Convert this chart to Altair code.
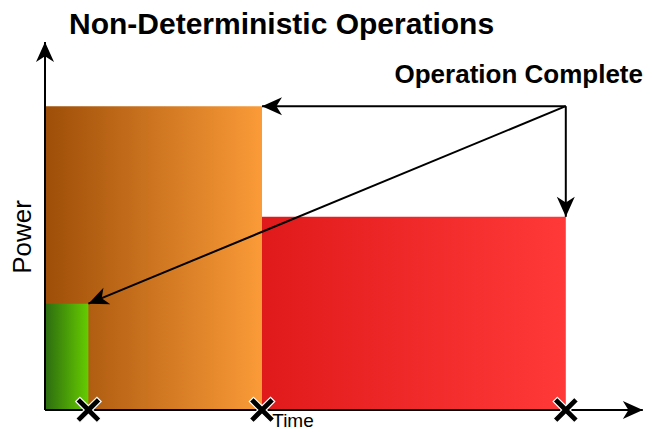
import math
import altair as alt
import pandas as pd

# ---- data ----
op_names = ["Operation A", "Operation B", "Operation C"]
start_times = [0, 0, 10]
end_times = [2, 10, 24]
power_levels = [4.9, 14, 8.9]
gradient_stops = {
    "Operation A": ["#2C6C10", "#66CC00"],
    "Operation B": ["#9E4E08", "#FB9B38"],
    "Operation C": ["#E01A1A", "#FF3838"],
}
draw_order = ["Operation B", "Operation A", "Operation C"]
title_text = "Non-Deterministic Operations"
note_text = "Operation Complete"
x_label = "Time"
y_label = "Power"
axis_x_end = 27.55
axis_y_end = 16.96

# ---- layout ----
W, H = 636, 424
K = 21.7               # pixels per data unit (same on both axes)
ORIGIN_X, ORIGIN_Y = 37, 402   # chart-pixel position of (0, 0)
xs = alt.Scale(domain=[-ORIGIN_X / K, (W - ORIGIN_X) / K], nice=False, zero=False)
ys = alt.Scale(domain=[-(H - ORIGIN_Y) / K, ORIGIN_Y / K], nice=False, zero=False)

ops = pd.DataFrame({"op": op_names, "t0": start_times, "t1": end_times,
                    "p0": [0] * len(op_names), "p1": power_levels})

ARROW = "M0,0 L0.45,1 L0,0.72 L-0.45,1 Z"
a = 0.2
XMARK = (f"M{-a},-1 L{a},-1 L{a},{-a} L1,{-a} L1,{a} L{a},{a} L{a},1 L{-a},1 "
         f"L{-a},{a} L-1,{a} L-1,{-a} L{-a},{-a} Z")

def X(f, **kw):
    return alt.X(f, type="quantitative", scale=xs, axis=None, **kw)

def Y(f, **kw):
    return alt.Y(f, type="quantitative", scale=ys, axis=None, **kw)

layers = []
for name in draw_order:
    c0, c1 = gradient_stops[name]
    grad = alt.LinearGradient(
        gradient="linear", x1=0, y1=0, x2=1, y2=0,
        stops=[alt.GradientStop(color=c0, offset=0), alt.GradientStop(color=c1, offset=1)],
    )
    layers.append(
        alt.Chart(ops).transform_filter(alt.datum.op == name)
        .mark_rect(color=grad)
        .encode(x=X("t0"), x2="t1", y=Y("p0"), y2="p1")
    )

# axes with arrowheads
axes = pd.DataFrame({"x": [0, 0], "y": [0, 0], "x2": [axis_x_end, 0], "y2": [0, axis_y_end],
                     "ang": [90, 0]})
layers.append(alt.Chart(axes).mark_rule(color="black", strokeWidth=2)
              .encode(x=X("x"), y=Y("y"), x2="x2", y2="y2"))
layers.append(alt.Chart(axes).mark_point(shape=ARROW, filled=True, color="black", opacity=1, size=1600)
              .encode(x=X("x2"), y=Y("y2"), angle=alt.Angle("ang:Q", scale=None)))

# "operation complete" arrows from a common origin
ox = end_times[-1]
oy = max(power_levels)
arr = pd.DataFrame({"x": [ox] * 3, "y": [oy] * 3, "x2": end_times, "y2": power_levels})
arr = arr[~((arr.x == arr.x2) & (arr.y == arr.y2))]
arr["ang"] = [math.degrees(math.atan2(r.x2 - r.x, r.y2 - r.y)) % 360 for r in arr.itertuples()]
layers.append(alt.Chart(arr).mark_rule(color="black", strokeWidth=2)
              .encode(x=X("x"), y=Y("y"), x2="x2", y2="y2"))
layers.append(alt.Chart(arr).mark_point(shape=ARROW, filled=True, color="black", opacity=1, size=1600)
              .encode(x=X("x2"), y=Y("y2"), angle=alt.Angle("ang:Q", scale=None)))

# completion X marks on the time axis
layers.append(alt.Chart(ops).mark_point(shape=XMARK, filled=True, color="black", opacity=1,
                                         size=900, angle=45, stroke="white", strokeWidth=1.2)
              .encode(x=X("t1"), y=alt.Y("p0:Q", scale=ys, axis=None)))

# texts
txt = pd.DataFrame({"t": [0]})
layers.append(alt.Chart(txt).mark_text(text=title_text, font="Liberation Sans", fontWeight="bold",
                                       fontSize=30, align="left", baseline="alphabetic", color="black")
              .encode(x=alt.value(61), y=alt.value(26)))
layers.append(alt.Chart(txt).mark_text(text=note_text, font="Liberation Sans", fontWeight="bold",
                                       fontSize=26, align="right", baseline="alphabetic", color="black")
              .encode(x=alt.value(635), y=alt.value(75)))
layers.append(alt.Chart(txt).mark_text(text=y_label, font="Liberation Sans", fontSize=26, angle=270,
                                       align="center", baseline="alphabetic", color="black")
              .encode(x=alt.value(23), y=alt.value(229)))
layers.append(alt.Chart(txt).mark_text(text=x_label, font="Liberation Sans", fontSize=19,
                                       align="center", baseline="bottom", color="black")
              .encode(x=alt.value(285), y=alt.value(423)))

chart = (alt.layer(*layers)
         .properties(width=W, height=H, padding=0, autosize="none", background="white")
         .configure_view(stroke=None))

chart.save("out.html", embed_options={"renderer": "svg", "actions": False})
